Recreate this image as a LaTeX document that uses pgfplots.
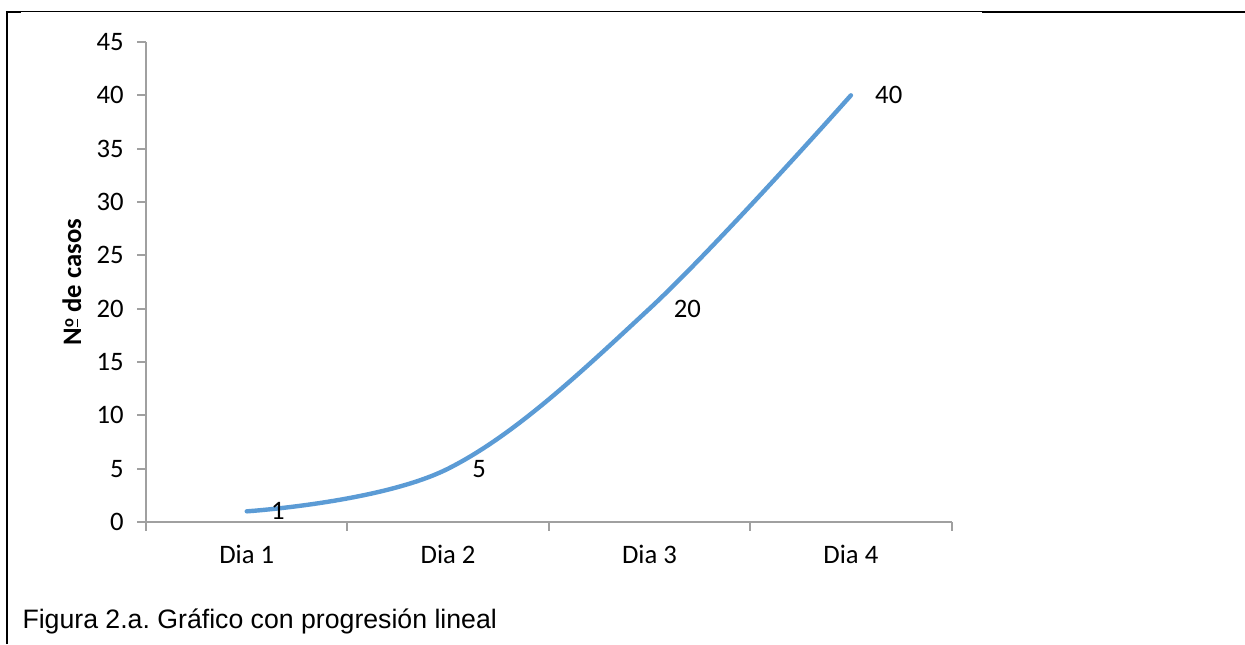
\documentclass[border=0pt]{standalone}
\usepackage{pgfplots}
\pgfplotsset{compat=1.18}
\usepackage{fontspec}
\setmainfont{Carlito}
\newfontfamily\arial{Liberation Sans}
\definecolor{linec}{HTML}{5B9BD5}
\definecolor{axc}{HTML}{A0A0A0}
\frenchspacing
\newcommand{\ordo}{\raisebox{2.9pt}{\fontsize{6.2}{7}\selectfont\underline{o}}}
\begin{document}
\frenchspacing
\begin{tikzpicture}
\useasboundingbox (0,0) rectangle (466.875pt,241.5pt);
% frame lines
\draw[black, line width=0.75pt] (2.6pt,0pt) -- (2.6pt,237.3pt);
\draw[black, line width=0.5pt] (2.6pt,237.3pt) -- (368.3pt,237.3pt);
\draw[black, line width=0.8pt] (368.3pt,237.0pt) -- (466.875pt,237.0pt);
\draw[black, line width=0.8pt] (2.2pt,237.0pt) -- (7.8pt,237.0pt);
\begin{axis}[
  at={(54.75pt,45.75pt)}, anchor=south west,
  scale only axis, width=302.1pt, height=180pt,
  axis x line*=bottom, axis y line*=left,
  axis line style={draw=axc, line width=0.75pt},
  xmin=0.5, xmax=4.5, ymin=0, ymax=45,
  xtick={0.5,1.5,2.5,3.5,4.5}, xticklabels={},
  extra x ticks={1,2,3,4}, extra x tick labels={Dia 1,Dia 2,Dia 3,Dia 4},
  extra x tick style={major tick length=0pt},
  ytick={0,5,...,45},
  tick align=outside,
  major tick length=3.2pt,
  every tick/.style={draw=axc, line width=0.75pt},
  /pgf/number format/assume math mode=true,
  tick label style={font=\fontsize{10}{12}\selectfont, text=black},
  yticklabel style={anchor=east, inner sep=0pt, xshift=-5.0pt},
  xticklabel style={anchor=base, inner sep=0pt, yshift=-15.4pt},
  ylabel={N\ordo{} de casos},
  every axis y label/.style={at={(axis description cs:-0.0919,0.5)}, rotate=90, anchor=center, font=\bfseries\fontsize{10}{12}\selectfont},
  clip=false,
]
\addplot[color=linec, line width=1.65pt, smooth, tension=0.6, line cap=round,
  nodes near coords, nodes near coords align={horizontal},
  every node near coord/.append style={anchor=west, inner sep=0pt, xshift=8.3pt, text=black, font=\fontsize{10}{12}\selectfont},
] coordinates {(1,1) (2,5) (3,20) (4,40)};
\end{axis}
\node[anchor=base west, inner sep=0pt, font=\arial\fontsize{10}{12}\selectfont] at (8.25pt,6pt) {\frenchspacing Figura 2.a. Gráfico con progresión lineal};
\end{tikzpicture}
\end{document}
